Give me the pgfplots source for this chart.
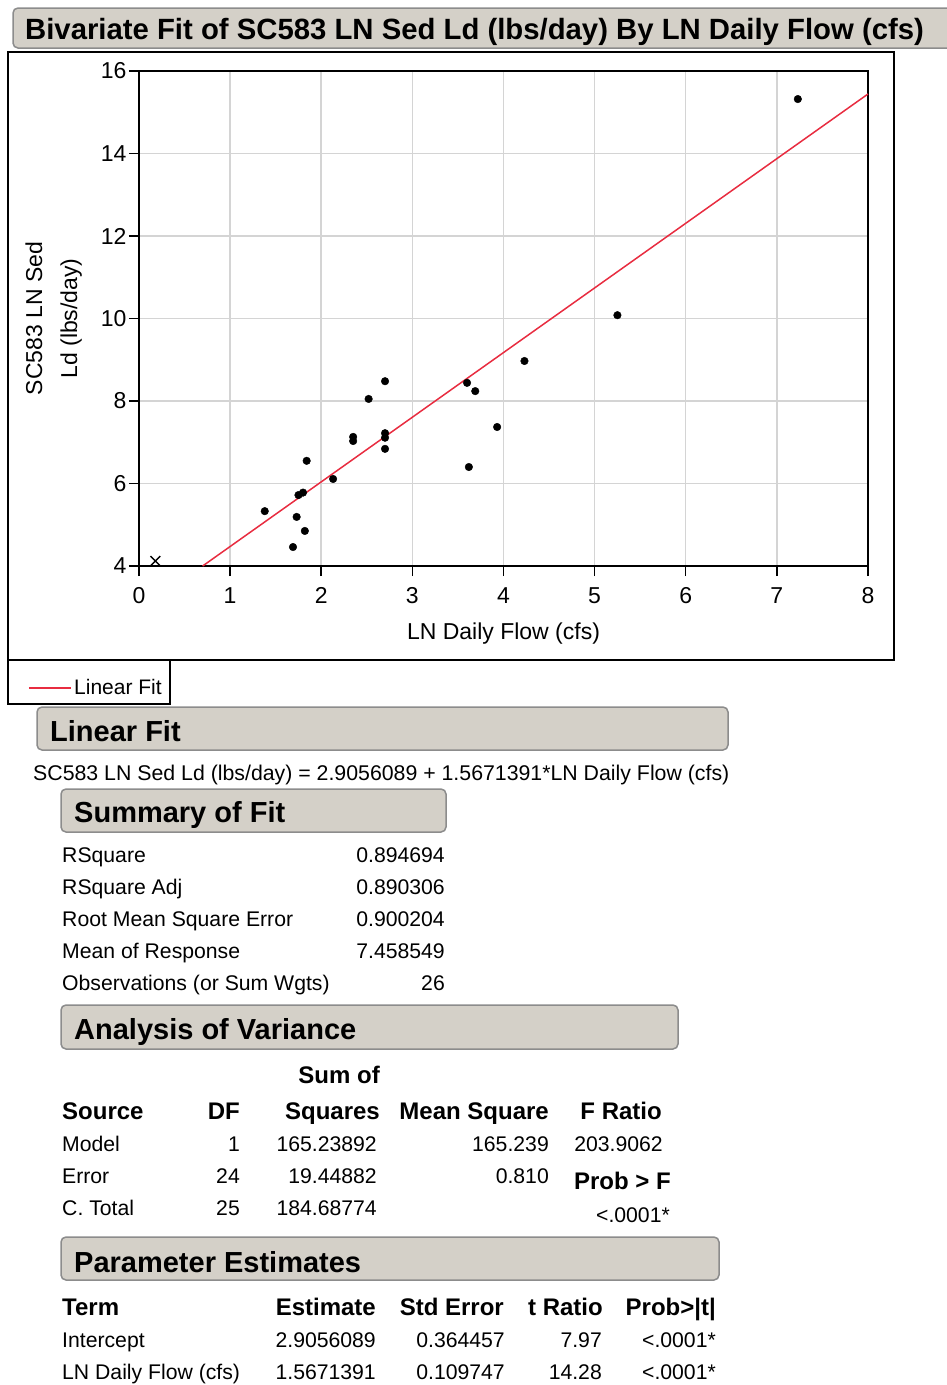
\documentclass[border=0pt]{standalone}
\usepackage{fontspec}
\setmainfont{Liberation Sans}
\usepackage{pgfplots}
\pgfplotsset{compat=1.18}
\definecolor{boxgray}{RGB}{212,208,200}
\definecolor{boxedge}{RGB}{140,140,140}
\definecolor{fitred}{RGB}{232,44,64}
\definecolor{gridgray}{RGB}{212,212,212}
\newcommand{\fs}[1]{\fontsize{#1}{#1}\selectfont}
\begin{document}
\begin{tikzpicture}[x=1pt,y=1pt]
\useasboundingbox (0,0) rectangle (947,-1385);
% title box
\draw[fill=boxgray,draw=boxedge,line width=1.5pt,rounded corners=5pt] (13,-8) rectangle (975,-48);
\node[anchor=base west,inner sep=0pt] at (25,-39.5) {\fs{29.3}\bfseries Bivariate Fit of SC583 LN Sed Ld (lbs/day) By LN Daily Flow (cfs)};
% plot frame
\draw[line width=1.6pt] (8,-52) rectangle (894,-660);
\draw[line width=1.6pt] (8,-660) rectangle (170,-704);
\begin{axis}[
  at={(139pt,-566pt)}, anchor=south west,
  scale only axis, width=729pt, height=495pt,
  xmin=0, xmax=8, ymin=4, ymax=16,
  xtick={0,1,...,8}, ytick={4,6,...,16},
  grid=major,
  grid style={line width=1.5pt, gridgray},
  axis line style={line width=1.5pt, black},
  major tick style={line width=1.5pt, black},
  tick align=outside, tick pos=left, major tick length=10pt,
  /pgf/number format/assume math mode=true,
  ticklabel style={font=\fs{23}},
  yticklabel style={xshift=1pt},
  xticklabel style={yshift=-8pt},
  xlabel={LN Daily Flow (cfs)},
  ylabel={SC583 LN Sed\\Ld (lbs/day)},
  label style={font=\fs{23}},
  xlabel style={at={(axis description cs:0.5,-0.137)}, anchor=center},
  ylabel style={at={(axis description cs:-0.117,0.5)}, anchor=center, align=center, execute at begin node={\baselineskip=35pt}},
  legend style={at={(axis description cs:-0.1523,-0.2465)}, anchor=west, draw=none, fill=none, inner sep=0pt, font=\fs{21}, nodes={inner sep=2.5pt}},
  legend image code/.code={\draw[#1] (0pt,0pt) -- (42pt,0pt);},
  clip=false,
]
\addplot[fitred, line width=1.5pt] coordinates {(0.69834,4) (8,15.4427)};
\addlegendentry{Linear Fit}
\addplot[only marks, mark=*, mark size=3.8pt, black, forget plot] coordinates {
(7.23,15.32) (5.25,10.08) (4.23,8.97) (3.60,8.44) (3.69,8.24) (3.93,7.37) (3.62,6.40)
(2.70,8.48) (2.52,8.05) (2.70,7.22) (2.70,7.11) (2.70,6.84) (2.35,7.13) (2.35,7.03)
(2.13,6.11) (1.84,6.55) (1.80,5.78) (1.75,5.72) (1.73,5.19) (1.82,4.85) (1.69,4.46) (1.38,5.33)
};
\addplot[only marks, mark=x, mark size=7pt, black, line width=1.4pt, forget plot] coordinates {(0.18,4.12)};
\end{axis}
% Linear Fit section
\draw[fill=boxgray,draw=boxedge,line width=1.5pt,rounded corners=5pt] (37,-707) rectangle (728,-750);
\node[anchor=base west,inner sep=0pt] at (50,-741) {\fs{29}\bfseries Linear Fit};
\node[anchor=base west,inner sep=0pt] at (33,-780.5) {\fs{21.3}SC583 LN Sed Ld (lbs/day) = 2.9056089 + 1.5671391*LN Daily Flow (cfs)};
% Summary of Fit
\draw[fill=boxgray,draw=boxedge,line width=1.5pt,rounded corners=5pt] (61,-789) rectangle (446,-832);
\node[anchor=base west,inner sep=0pt] at (74,-822) {\fs{29}\bfseries Summary of Fit};
\begin{scope}[every node/.style={inner sep=0pt,font=\fs{21.2}}]
\node[anchor=base west] at (62,-862.5) {RSquare};
\node[anchor=base west] at (62,-894.5) {RSquare Adj};
\node[anchor=base west] at (62,-926.5) {Root Mean Square Error};
\node[anchor=base west] at (62,-958.5) {Mean of Response};
\node[anchor=base west] at (62,-990.5) {Observations (or Sum Wgts)};
\node[anchor=base east] at (445,-862.5) {0.894694};
\node[anchor=base east] at (445,-894.5) {0.890306};
\node[anchor=base east] at (445,-926.5) {0.900204};
\node[anchor=base east] at (445,-958.5) {7.458549};
\node[anchor=base east] at (445,-990.5) {26};
\end{scope}
% ANOVA
\draw[fill=boxgray,draw=boxedge,line width=1.5pt,rounded corners=5pt] (61,-1005) rectangle (678,-1049);
\node[anchor=base west,inner sep=0pt] at (74,-1039) {\fs{29}\bfseries Analysis of Variance};
\begin{scope}[every node/.style={inner sep=0pt,font=\fs{21.2}}]
\node[anchor=base east,font=\fs{24}\bfseries] at (380,-1083.5) {Sum of};
\node[anchor=base west,font=\fs{24}\bfseries] at (62,-1119.5) {Source};
\node[anchor=base east,font=\fs{24}\bfseries] at (240,-1119.5) {DF};
\node[anchor=base east,font=\fs{24}\bfseries] at (380,-1119.5) {Squares};
\node[anchor=base east,font=\fs{24}\bfseries] at (549,-1119.5) {Mean Square};
\node[anchor=base east,font=\fs{24}\bfseries] at (662,-1119.5) {F Ratio};
\node[anchor=base west] at (62,-1151.5) {Model};
\node[anchor=base west] at (62,-1183.5) {Error};
\node[anchor=base west] at (62,-1215.5) {C. Total};
\node[anchor=base east] at (240,-1151.5) {1};
\node[anchor=base east] at (240,-1183.5) {24};
\node[anchor=base east] at (240,-1215.5) {25};
\node[anchor=base east] at (377,-1151.5) {165.23892};
\node[anchor=base east] at (377,-1183.5) {19.44882};
\node[anchor=base east] at (377,-1215.5) {184.68774};
\node[anchor=base east] at (549,-1151.5) {165.239};
\node[anchor=base east] at (549,-1183.5) {0.810};
\node[anchor=base east] at (663,-1151.5) {203.9062};
\node[anchor=base east,font=\fs{24}\bfseries] at (671,-1189.5) {Prob > F};
\node[anchor=base east] at (670,-1222) {<.0001*};
\end{scope}
% Parameter Estimates
\draw[fill=boxgray,draw=boxedge,line width=1.5pt,rounded corners=5pt] (61,-1237) rectangle (719,-1280);
\node[anchor=base west,inner sep=0pt] at (74,-1272) {\fs{29}\bfseries Parameter Estimates};
\begin{scope}[every node/.style={inner sep=0pt,font=\fs{21.2}}]
\node[anchor=base west,font=\fs{24}\bfseries] at (62,-1315.5) {Term};
\node[anchor=base east,font=\fs{24}\bfseries] at (376,-1315.5) {Estimate};
\node[anchor=base east,font=\fs{24}\bfseries] at (504,-1315.5) {Std Error};
\node[anchor=base east,font=\fs{24}\bfseries] at (603,-1315.5) {t Ratio};
\node[anchor=base east,font=\fs{24}\bfseries] at (716,-1315.5) {Prob>|t|};
\node[anchor=base west] at (62,-1347.5) {Intercept};
\node[anchor=base west] at (62,-1379.5) {LN Daily Flow (cfs)};
\node[anchor=base east] at (376,-1347.5) {2.9056089};
\node[anchor=base east] at (376,-1379.5) {1.5671391};
\node[anchor=base east] at (505,-1347.5) {0.364457};
\node[anchor=base east] at (505,-1379.5) {0.109747};
\node[anchor=base east] at (602,-1347.5) {7.97};
\node[anchor=base east] at (602,-1379.5) {14.28};
\node[anchor=base east] at (716,-1347.5) {<.0001*};
\node[anchor=base east] at (716,-1379.5) {<.0001*};
\end{scope}
\end{tikzpicture}
\end{document}
